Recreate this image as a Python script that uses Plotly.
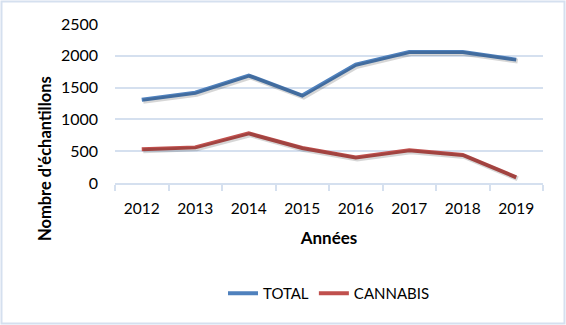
import plotly.graph_objects as go

years = ["2012", "2013", "2014", "2015", "2016", "2017", "2018", "2019"]
total = [1310, 1420, 1690, 1375, 1860, 2060, 2060, 1940]
cannabis = [530, 560, 780, 550, 400, 515, 440, 90]

W, H = 566, 325
ML, MR, MT, MB = 115, 23, 24, 142
PW, PH = W - ML - MR, H - MT - MB

FONT = "Lato, Carlito, 'Open Sans', sans-serif"
GRID = "#d5e0ef"

# shadow offset: ~1.5 px right and down
dx = 1.5 * 8 / PW
dy = 1.5 * 2500 / PH

fig = go.Figure()
for name, vals, color in [("TOTAL", total, "#4f81bd"), ("CANNABIS", cannabis, "#c0504d")]:
    fig.add_trace(go.Scatter(x=years, y=vals, mode="lines", showlegend=False,
                             hoverinfo="skip", line=dict(color="rgba(0,0,0,0.16)", width=5),
                             xaxis="x2", yaxis="y2"))
for name, vals, color in [("TOTAL", total, "#4f81bd"), ("CANNABIS", cannabis, "#c0504d")]:
    fig.add_trace(go.Scatter(x=years, y=vals, mode="lines", name=name,
                             line=dict(color=color, width=4)))

fig.update_layout(
    width=W, height=H,
    margin=dict(l=ML, r=MR, t=MT, b=MB),
    plot_bgcolor="white", paper_bgcolor="white",
    font=dict(family=FONT, size=15, color="#000"),
    showlegend=True,
    legend=dict(orientation="h", x=0.5, xanchor="center", y=-(293 - 183 - 16) / PH, yanchor="top",
                font=dict(size=15)),
    xaxis=dict(type="category", range=[-0.5, 7.5], showgrid=False, showline=True,
               linecolor=GRID, linewidth=2,
               ticks="outside", tickson="boundaries", ticklen=6, tickcolor=GRID, tickwidth=2,
               tickfont=dict(size=15.5), ticklabelstandoff=10,
               title=dict(text="<b>Années</b>", font=dict(size=17), standoff=17)),
    xaxis2=dict(type="category", overlaying="x", visible=False,
                range=[-0.5 - dx, 7.5 - dx]),
    yaxis=dict(range=[0, 2500], dtick=500, showgrid=True, gridcolor=GRID, gridwidth=2,
               zeroline=False, showline=False, ticks="", tickfont=dict(size=16),
               ticklabelstandoff=16),
    yaxis2=dict(overlaying="y", visible=False, range=[dy, 2500 + dy]),
    annotations=[dict(text="<b>Nombre d'échantillons</b>", textangle=-90,
                      xref="paper", yref="paper",
                      x=-(ML - 45) / PW, y=(H - MB - 159) / PH,
                      xanchor="center", yanchor="middle", showarrow=False,
                      font=dict(size=16.5))],
    shapes=[dict(type="rect", xref="paper", yref="paper",
                 x0=-(ML - 1.5) / PW, x1=1 + (MR - 1.5) / PW,
                 y0=-(MB - 1.5) / PH, y1=1 + (MT - 1.5) / PH,
                 line=dict(color="#d5e0ef", width=2), layer="below")],
)

fig.write_html("out.html")
